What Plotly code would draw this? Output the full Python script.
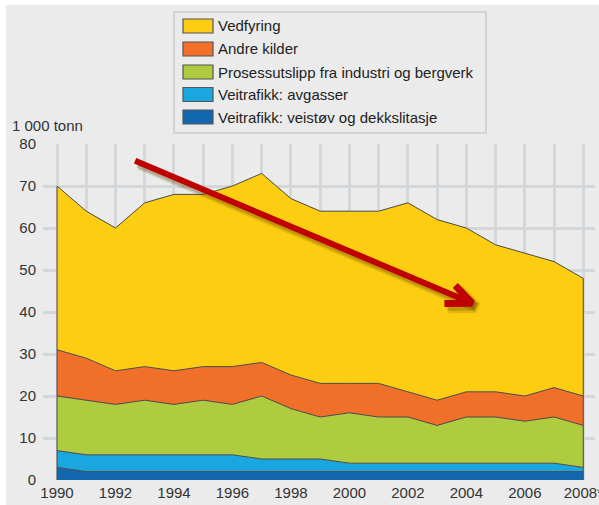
import plotly.graph_objects as go

years = list(range(1990, 2009))
veistov = [3, 2, 2, 2, 2, 2, 2, 2, 2, 2, 2, 2, 2, 2, 2, 2, 2, 2, 2]
avgasser = [4, 4, 4, 4, 4, 4, 4, 3, 3, 3, 2, 2, 2, 2, 2, 2, 2, 2, 1]
prosess = [13, 13, 12, 13, 12, 13, 12, 15, 12, 10, 12, 11, 11, 9, 11, 11, 10, 11, 10]
andre = [11, 10, 8, 8, 8, 8, 9, 8, 8, 8, 7, 8, 6, 6, 6, 6, 6, 7, 7]
vedfyring = [39, 35, 34, 39, 42, 41, 43, 45, 42, 41, 41, 41, 45, 43, 39, 35, 34, 30, 28]

names = ['Veitrafikk: veistøv og dekkslitasje', 'Veitrafikk: avgasser',
         'Prosessutslipp fra industri og bergverk', 'Andre kilder', 'Vedfyring']
colors = ['#1267AE', '#1AA7E0', '#AFCB3F', '#F07029', '#FDCD11']
values = [veistov, avgasser, prosess, andre, vedfyring]

tick_text = [str(y) if y % 2 == 0 else '' for y in years]
tick_text[-1] = '2008*'

# trend arrow, in data coordinates
arrow_start = (1992.67, 76.0)
arrow_tip = (2004.2, 42.1)
arrow_arm1 = (2003.62, 46.3)
arrow_arm2 = (2003.25, 42.0)

FONT = 'Liberation Sans, Arial, sans-serif'
W, H = 599, 505
L, R, T, B = 43, 4, 144, 25
PW, PH = W - L - R, H - T - B


def px(x):
    return (x - L) / PW


def py(y):
    return (H - B - y) / PH


fig = go.Figure()
for name, vals, col in zip(names, values, colors):
    fig.add_trace(go.Scatter(
        x=years, y=vals, name=name, mode='lines',
        stackgroup='one', fillcolor=col,
        line=dict(color='#4a4a4a', width=1), showlegend=False,
    ))

# vertical edges of the stacked area
totals = [sum(v[i] for v in values) for i in range(len(years))]
for i in (0, -1):
    fig.add_trace(go.Scatter(
        x=[years[i], years[i]], y=[0, totals[i]], mode='lines',
        line=dict(color='#4a4a4a', width=1), showlegend=False, hoverinfo='skip',
    ))

# arrow with soft shadow
for dx, dy, col, w in [(0.14, -1.0, 'rgba(90,60,0,0.16)', 10),
                       (0.1, -0.8, 'rgba(90,60,0,0.25)', 7),
                       (0, 0, '#C00000', 6)]:
    fig.add_trace(go.Scatter(
        x=[arrow_start[0] + dx, arrow_tip[0] + dx],
        y=[arrow_start[1] + dy, arrow_tip[1] + dy],
        mode='lines', line=dict(color=col, width=w), showlegend=False, hoverinfo='skip',
    ))
    fig.add_trace(go.Scatter(
        x=[arrow_arm1[0] + dx, arrow_tip[0] + dx, arrow_arm2[0] + dx],
        y=[arrow_arm1[1] + dy, arrow_tip[1] + dy, arrow_arm2[1] + dy],
        mode='lines', line=dict(color=col, width=w + 1), showlegend=False, hoverinfo='skip',
    ))

shapes = [
    # grey panel with thin white margin top/left
    dict(type='rect', xref='paper', yref='paper', layer='below',
         x0=px(6), x1=px(W), y0=py(H), y1=py(5),
         fillcolor='#EBEBEB', line=dict(width=0)),
    # legend box
    dict(type='rect', xref='paper', yref='paper',
         x0=px(174), x1=px(486), y0=py(133), y1=py(12),
         fillcolor='rgba(0,0,0,0)', line=dict(color='#D2D4D4', width=2)),
]
annotations = []
legend_rows = [26, 49, 72, 94.5, 117]
for (name, col), yc in zip(reversed(list(zip(names, colors))), legend_rows):
    shapes.append(dict(type='rect', xref='paper', yref='paper',
                       x0=px(183), x1=px(213), y0=py(yc + 7), y1=py(yc - 7),
                       fillcolor=col, line=dict(color='#555', width=1.2)))
    annotations.append(dict(text=name, xref='paper', yref='paper',
                            x=px(216), y=py(yc), xanchor='left', yanchor='middle',
                            showarrow=False, font=dict(size=15, color='#222')))

annotations.append(dict(text='1 000 tonn', xref='paper', yref='paper',
                        x=px(10), y=py(126), xanchor='left', yanchor='middle',
                        showarrow=False, font=dict(size=15, color='#333')))

fig.update_layout(
    width=W, height=H,
    margin=dict(l=L, r=R, t=T, b=B),
    paper_bgcolor='white', plot_bgcolor='#EBEBEB',
    font=dict(family=FONT, size=15, color='#333'),
    showlegend=False,
    shapes=shapes, annotations=annotations,
    xaxis=dict(
        range=[1989.52, 2008.4], tickvals=years, ticktext=tick_text,
        showgrid=True, gridcolor='#D3D7DA', gridwidth=3, zeroline=False,
        ticks='', ticklabelstandoff=2, showline=False, automargin=False,
        ticklabeloverflow='allow', tickfont=dict(size=15),
    ),
    yaxis=dict(
        range=[0, 80], dtick=10, showgrid=True, gridcolor='#D3D7DA', gridwidth=3,
        zeroline=False, ticks='', ticklabelstandoff=6, automargin=False,
        tickfont=dict(size=15),
    ),
)

fig.write_html('out.html', config={'displayModeBar': False},
               post_script="document.body.style.margin='0px';")
